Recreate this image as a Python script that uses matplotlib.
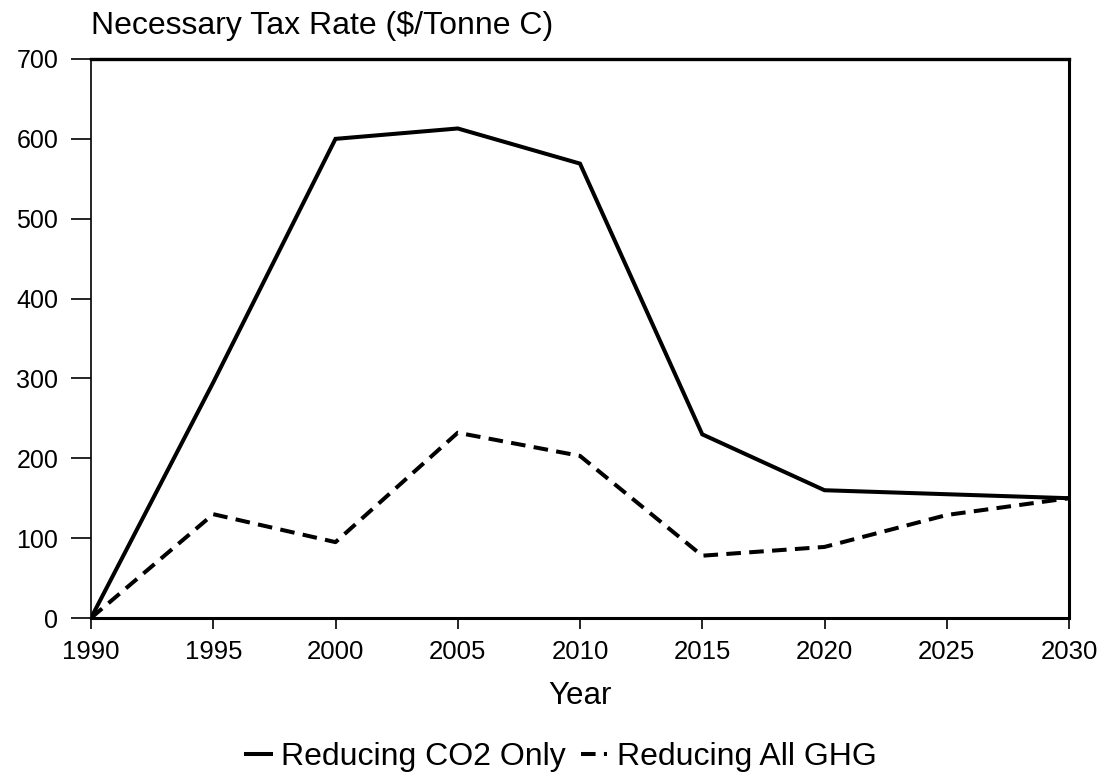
import matplotlib
matplotlib.use("Agg")
import matplotlib.pyplot as plt

plt.rcParams['font.family'] = ['Liberation Sans', 'DejaVu Sans']
plt.rcParams['lines.scale_dashes'] = False

years = [1990, 1995, 2000, 2005, 2010, 2015, 2020, 2025, 2030]
co2_only = [0, 295, 600, 613, 569, 230, 160, 155, 150]
all_ghg = [0, 130, 95, 232, 203, 78, 89, 129, 150]
x_ticks = [1990, 1995, 2000, 2005, 2010, 2015, 2020, 2025, 2030]
y_ticks = [0, 100, 200, 300, 400, 500, 600, 700]
labels = ["Reducing CO2 Only", "Reducing All GHG"]

fig = plt.figure(figsize=(11.08, 7.83), dpi=100)
ax = fig.add_axes([91/1108, 1-618/783, (1069-91)/1108, (618-59)/783])

l1, = ax.plot(years, co2_only, color='black', lw=2.9, solid_joinstyle='miter', label=labels[0])
l2, = ax.plot(years, all_ghg, color='black', lw=2.9, dashes=(10.5, 6), label=labels[1])

ax.set_xlim(1990, 2030)
ax.set_ylim(0, 700)
ax.set_xticks(x_ticks)
ax.set_yticks(y_ticks)
ax.tick_params(axis='x', direction='out', length=8, width=1.2, labelsize=18.5, pad=8)
ax.tick_params(axis='y', direction='out', length=14.5, width=1.2, labelsize=18, pad=9)

ax.spines['top'].set_linewidth(2.4)
ax.spines['bottom'].set_linewidth(2.2)
ax.spines['right'].set_linewidth(2.2)
ax.spines['left'].set_linewidth(1.2)

ax.set_title("Necessary Tax Rate ($/Tonne C)", loc='left', fontsize=23, pad=18)
ax.set_xlabel("Year", fontsize=22.5, labelpad=12)

fig.legend(handles=[l1, l2], labels=labels, loc='center', ncol=2,
           bbox_to_anchor=(561/1108, 1-757/783), frameon=False, fontsize=23,
           handlelength=0.8, handletextpad=0.3, columnspacing=0.5)

fig.savefig("out.png", dpi=100)
